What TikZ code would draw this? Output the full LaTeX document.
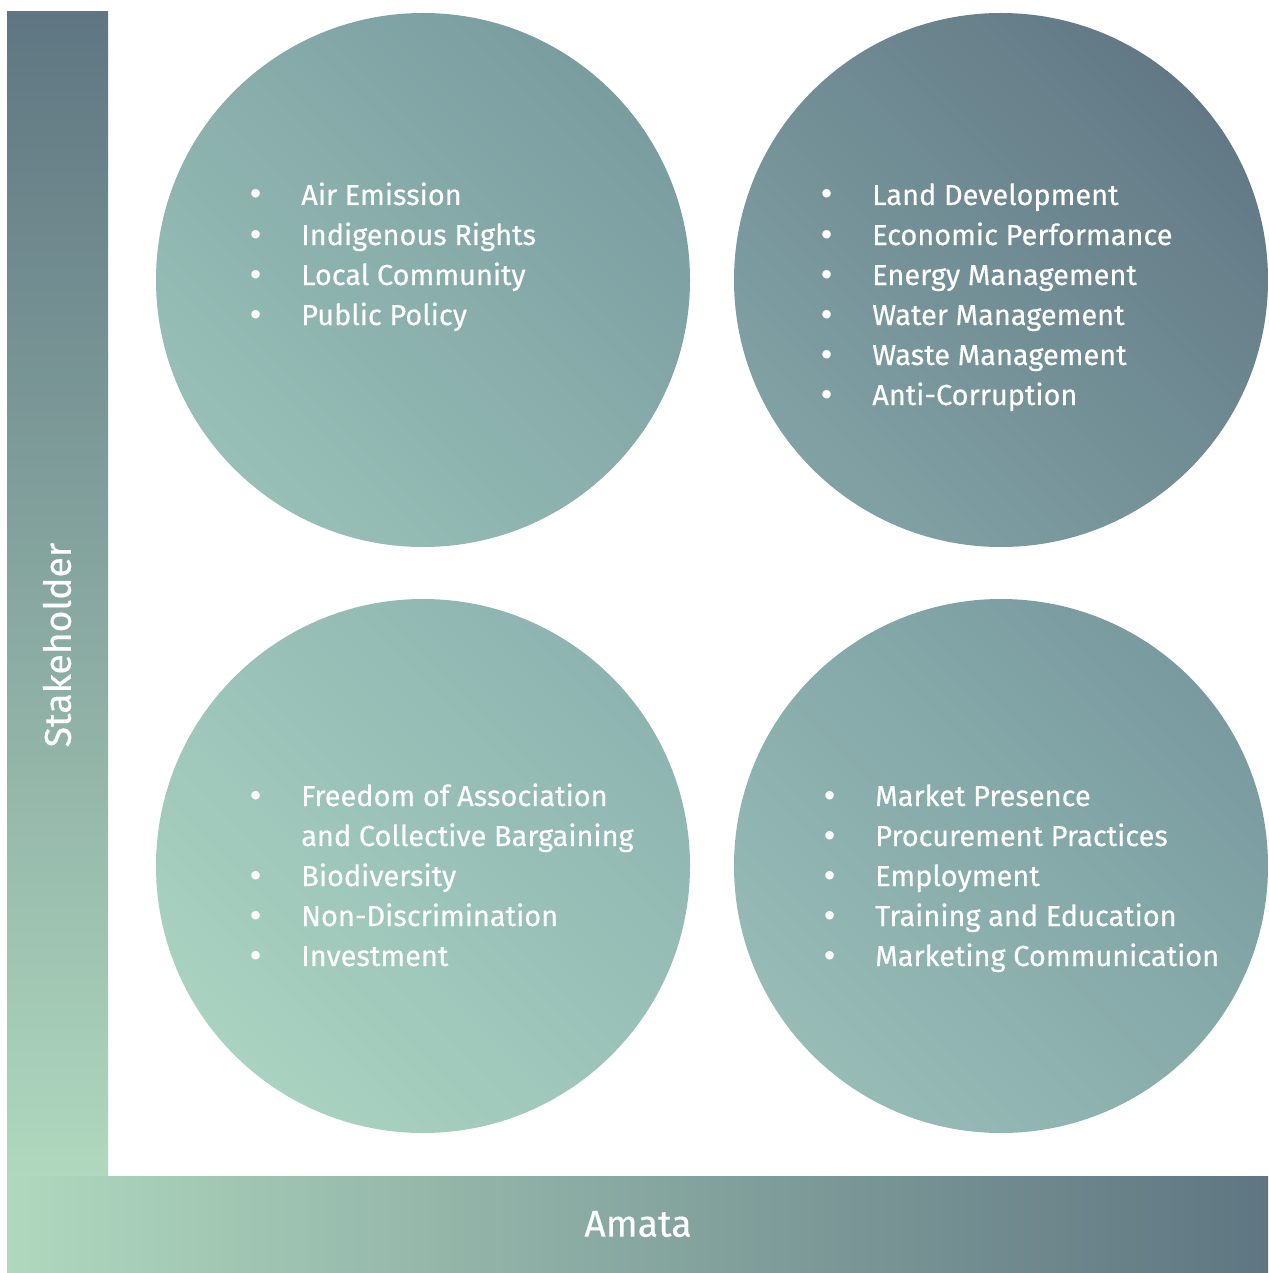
\documentclass[tikz,border=0pt]{standalone}
\usepackage{fontspec}
\setmainfont{Fira Sans}[FakeBold=0.4]
\newfontfamily\dotfont{DejaVu Sans}
\usetikzlibrary{positioning}
\definecolor{slate}{HTML}{5F7682}
\definecolor{mint}{HTML}{AFD8BE}
\definecolor{tlhi}{HTML}{7A9DA0}
\definecolor{tllo}{HTML}{98BFB7}
\definecolor{trhi}{HTML}{627985}
\definecolor{trlo}{HTML}{81A2A5}
\definecolor{blhi}{HTML}{8EB4B1}
\definecolor{bllo}{HTML}{A9D2C0}
\definecolor{brhi}{HTML}{799BA0}
\definecolor{brlo}{HTML}{97BCB6}
\tikzset{bubble/.style={circle, minimum size=400.5pt, inner sep=0pt},
  topics/.style={anchor=base west, inner sep=0pt, text=white, font=\fontsize{21.7}{30}\selectfont},
  axislabel/.style={text=white, inner sep=0pt, font=\fontsize{28}{34}\selectfont}}
\newcommand{\bul}{\makebox[0pt]{\dotfont •}\hspace{33.75pt}}
\newcommand{\nobul}{\hspace{33.75pt}}

\begin{document}
\begin{tikzpicture}[x=0.75pt, y=-0.75pt]
    \useasboundingbox (0,0) rectangle (1268,1273);
    % axes
    \shade[top color=slate, bottom color=mint] (7,12) rectangle (108,1175);
    \shade[left color=mint, right color=slate] (7,1176) rectangle (1268,1273);
    \node[axislabel, rotate=90] (stake) at (57,645) {Stakeholder};
    \node[axislabel] (amata) at (638,1224) {Amata};

    % circles
    \node[bubble, top color=tlhi, bottom color=tllo, shading angle=-45] (tl) at (423,280) {};
    \node[bubble, top color=trhi, bottom color=trlo, shading angle=-45] (tr) at (1001,280) {};
    \node[bubble, top color=blhi, bottom color=bllo, shading angle=-45] (bl) at (423,866) {};
    \node[bubble, top color=brhi, bottom color=brlo, shading angle=-45] (br) at (1001,866) {};

    % topics
    \node[topics] (tltext) at (256,205) {
    \begin{tabular}[t]{@{}l@{}}
    \bul Air Emission \\
    \bul Indigenous Rights \\
    \bul Local Community \\
    \bul Public Policy
    \end{tabular}
    };
    \node[topics] (trtext) at (827,205) {
    \begin{tabular}[t]{@{}l@{}}
    \bul Land Development \\
    \bul Economic Performance \\
    \bul Energy Management \\
    \bul Water Management \\
    \bul Waste Management \\
    \bul Anti-Corruption
    \end{tabular}
    };
    \node[topics] (bltext) at (256,806) {
    \begin{tabular}[t]{@{}l@{}}
    \bul Freedom of Association \\
    \nobul and Collective Bargaining \\
    \bul Biodiversity \\
    \bul Non-Discrimination \\
    \bul Investment
    \end{tabular}
    };
    \node[topics] (brtext) at (830,806) {
    \begin{tabular}[t]{@{}l@{}}
    \bul Market Presence \\
    \bul Procurement Practices \\
    \bul Employment \\
    \bul Training and Education \\
    \bul Marketing Communication
    \end{tabular}
    };
\end{tikzpicture}
\end{document}
